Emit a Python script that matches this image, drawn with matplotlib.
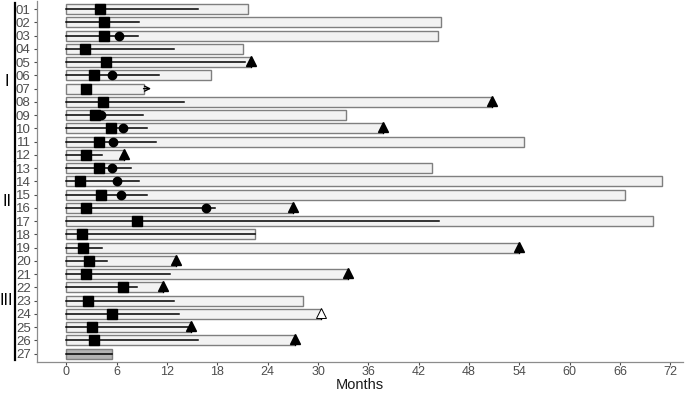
"""
Swimmer plot: follow-up per patient (months), grouped in I / II / III.
"""

import matplotlib

matplotlib.use("Agg")
import matplotlib.pyplot as plt
import matplotlib.transforms as mtransforms
import numpy as np

plt.rcParams["font.family"] = ["Liberation Sans", "DejaVu Sans"]

# ---- data ----
patients = [f"{i:02d}" for i in range(1, 28)]

# length of each grey bar (months)
bar_end = [21.6, 44.7, 44.3, 21.1, 22.0, 17.2, 9.2, 50.7, 33.3, 37.7, 54.6, 6.9,
           43.6, 71.0, 66.6, 27.0, 69.9, 22.5, 53.9, 13.1, 33.6, 11.5, 28.2,
           30.3, 14.9, 27.3, 5.4]

# black line inside the bar (0 = no line)
line_end = [15.7, 8.7, 8.5, 12.8, 21.3, 11.1, 0.0, 14.0, 9.1, 9.6, 10.7, 4.2,
            7.7, 8.7, 9.6, 17.7, 44.4, 22.5, 4.2, 4.9, 12.4, 8.4, 12.8,
            13.4, 14.5, 15.7, 5.4]

# square markers (nan = none)
square_x = [4.0, 4.5, 4.5, 2.2, 4.7, 3.3, 2.3, 4.4, 3.4, 5.3, 3.9, 2.4,
            3.9, 1.6, 4.1, 2.3, 8.4, 1.9, 2.0, 2.7, 2.3, 6.7, 2.6,
            5.4, 3.0, 3.3, np.nan]

# circle markers (nan = none)
circle_x = [np.nan, np.nan, 6.3, np.nan, np.nan, 5.5, np.nan, np.nan, 4.1, 6.8, 5.6, np.nan,
            5.5, 6.0, 6.5, 16.7, np.nan, np.nan, np.nan, np.nan, np.nan, np.nan, np.nan,
            np.nan, np.nan, np.nan, np.nan]

# event at the end of the bar: "tri" filled, "open" open triangle, "arrow" continuing, "" none
end_event = ["", "", "", "", "tri", "", "arrow", "tri", "", "tri", "", "tri",
             "", "", "", "tri", "", "", "tri", "tri", "tri", "tri", "",
             "open", "tri", "tri", ""]

bar_fill = ["#f2f2f2"] * 26 + ["#b3b3b3"]

groups = ["I", "II", "III"]
group_rows = [(1, 12), (13, 18), (19, 27)]

xticks = list(range(0, 73, 6))

# ---- figure ----
fig = plt.figure(figsize=(6.85, 3.93), dpi=100)
ax = fig.add_axes([0.054, 0.08, 0.943, 0.917])

y = np.arange(1, len(patients) + 1)

ax.barh(y, bar_end, left=0, height=0.75, color=bar_fill,
        edgecolor="#7f7f7f", linewidth=1.0, zorder=2)

for yi, le in zip(y, line_end):
    if le > 0:
        ax.plot([0, le], [yi, yi], color="black", lw=1.1, zorder=3)

ax.plot(square_x, y, ls="none", marker="s", ms=7, color="black", zorder=4)
ax.plot(circle_x, y, ls="none", marker="o", ms=6, color="black", zorder=4)

# events at the end of the bar
for yi, be, ev in zip(y, bar_end, end_event):
    if ev in ("tri", "open"):
        ax.plot([be, be], [yi, yi + 0.37], color="black", lw=0.9, zorder=4)
        face = "black" if ev == "tri" else "white"
        ax.plot(be, yi - 0.08, marker="^", ms=7, mfc=face, mec="black",
                mew=0.7 if ev == "open" else 1.0, ls="none", zorder=5)
    elif ev == "arrow":
        ax.annotate("", xy=(be + 0.9, yi), xytext=(be, yi),
                    arrowprops=dict(arrowstyle="->", lw=1.0, color="black",
                                    shrinkA=0, shrinkB=0, mutation_scale=9),
                    zorder=5)

ax.set_xlim(-3.5, 73.5)
ax.set_ylim(len(patients) + 0.6, 0.4)
ax.set_yticks(y)
ax.set_yticklabels(patients)
ax.set_xticks(xticks)

ax.tick_params(axis="both", colors="#4d4d4d", labelsize=9.5, length=2.5, width=0.8)
ax.tick_params(axis="x", pad=1, labelsize=9)
ax.tick_params(axis="y", pad=2)
for side in ("top", "right"):
    ax.spines[side].set_visible(False)
for side in ("left", "bottom"):
    ax.spines[side].set_color("#8c8c8c")
    ax.spines[side].set_linewidth(0.9)

ax.set_xlabel("Months", fontsize=10.5, color="#1a1a1a", labelpad=0)

# group brackets on the left
trans = mtransforms.blended_transform_factory(ax.transAxes, ax.transData)
for name, (r0, r1) in zip(groups, group_rows):
    ax.plot([-0.034, -0.034], [r0 - 0.45, r1 + 0.45], color="black", lw=1.6,
            transform=trans, clip_on=False)
    ax.text(-0.047, (r0 + r1) / 2, name, transform=trans, ha="center",
            va="center", fontsize=11.5, color="black")

fig.savefig("out.png", dpi=100)
